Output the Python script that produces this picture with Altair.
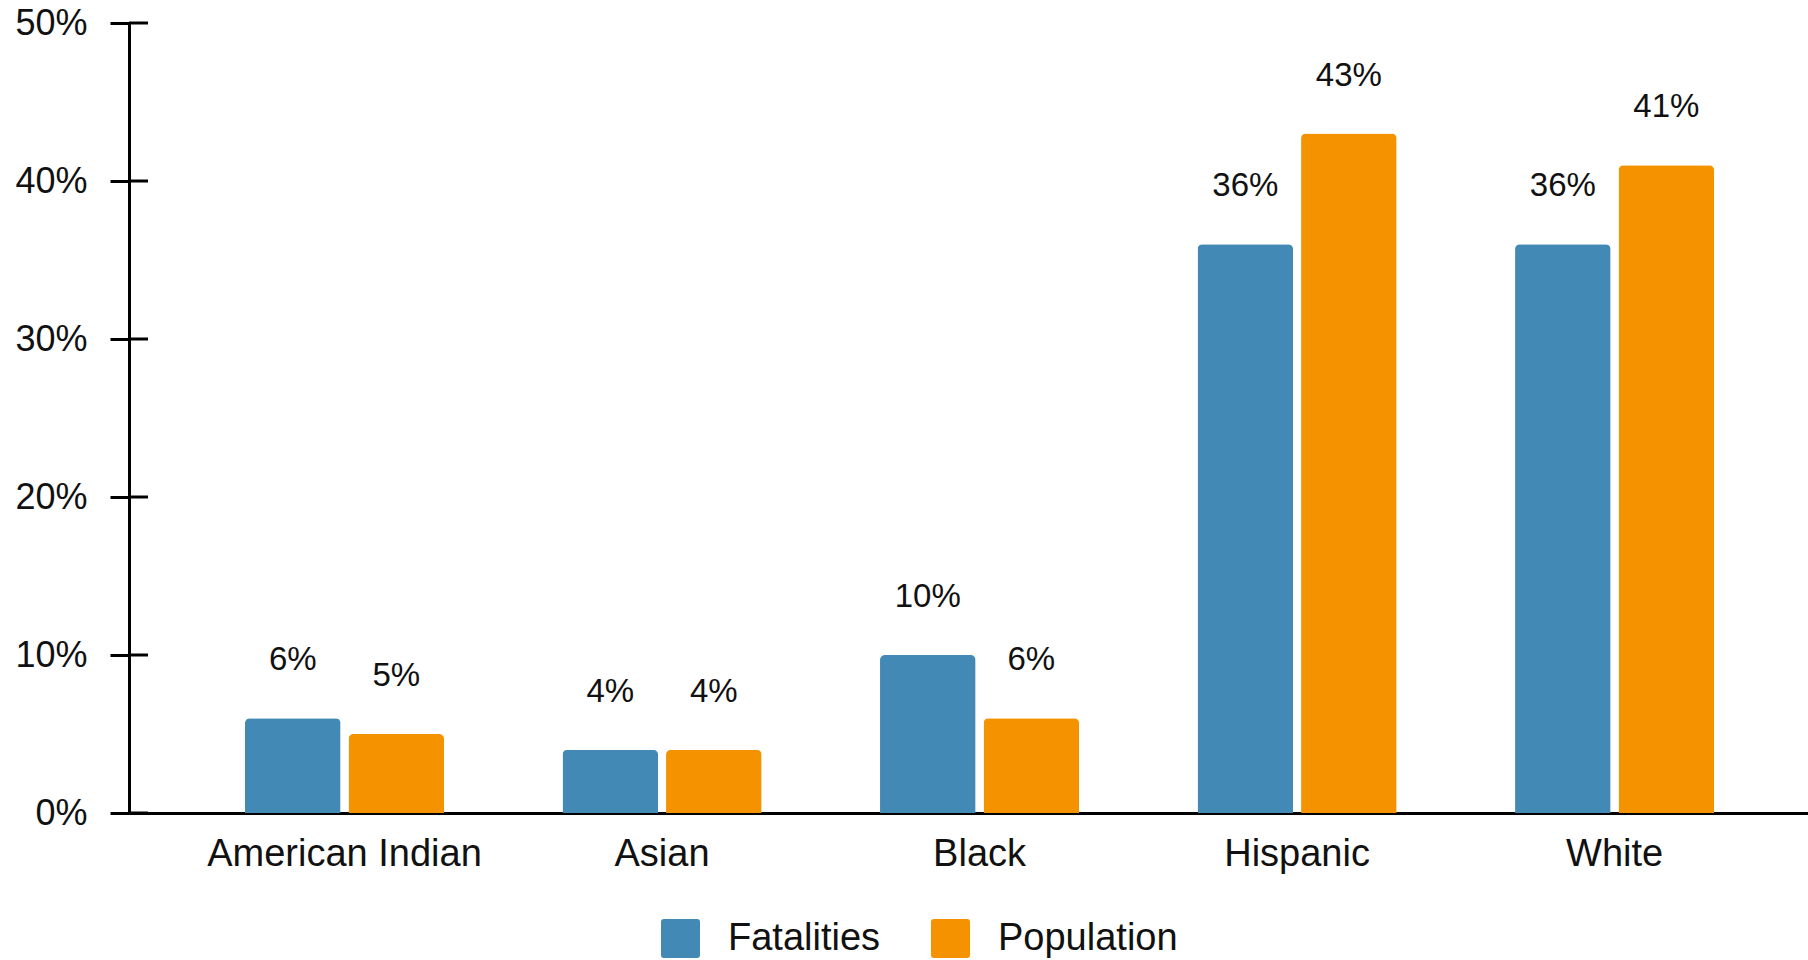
import altair as alt
import pandas as pd

groups = ["American Indian", "Asian", "Black", "Hispanic", "White"]
series = ["Fatalities", "Population"]
fatalities = [6, 4, 10, 36, 36]
population = [5, 4, 6, 43, 41]
y_ticks = [0, 10, 20, 30, 40, 50]
colors = ["#4389B5", "#F49200"]

rows = []
for g, f, p in zip(groups, fatalities, population):
    rows.append({"group": g, "series": "Fatalities", "value": f, "label": f"{f}%"})
    rows.append({"group": g, "series": "Population", "value": p, "label": f"{p}%"})
df = pd.DataFrame(rows)
ticks_df = pd.DataFrame({"value": y_ticks})

FONT = "Liberation Sans"

x = alt.X(
    "group:N", sort=groups, title=None,
    scale=alt.Scale(paddingInner=0.373, paddingOuter=0.3305, align=0.5527),
    axis=alt.Axis(labelAngle=0, labelFontSize=38, labelFont=FONT, labelColor="#111",
                  labelLimit=0, ticks=False, domainColor="#000", domainWidth=3,
                  labelPadding=22),
)
xo = alt.XOffset("series:N", sort=series, scale=alt.Scale(paddingInner=0.077, paddingOuter=0))
y = alt.Y(
    "value:Q", title=None, scale=alt.Scale(domain=[0, 50]),
    axis=alt.Axis(values=y_ticks, labelExpr="datum.value + '%'", grid=False,
                  tickSize=19, tickWidth=3, tickColor="#000", domainColor="#000",
                  domainWidth=3, labelFontSize=36, labelFont=FONT, labelColor="#111",
                  labelPadding=23),
)

sym = ("M -0.85,-1 L 0.85,-1 Q 1,-1 1,-0.85 L 1,0.85 Q 1,1 0.85,1 L -0.85,1 "
       "Q -1,1 -1,0.85 L -1,-0.85 Q -1,-1 -0.85,-1 Z")

color = alt.Color(
    "series:N", sort=series, scale=alt.Scale(domain=series, range=colors),
    legend=alt.Legend(orient="none", legendX=532, legendY=896, direction="horizontal",
                      title=None, symbolType=sym, symbolSize=1521, symbolStrokeWidth=0,
                      symbolOpacity=1, labelFontSize=38, labelFont=FONT, labelColor="#111",
                      labelLimit=0, labelOffset=28, columnPadding=50, padding=0),
)

bars = alt.Chart(df).mark_bar(cornerRadiusTopLeft=5, cornerRadiusTopRight=5).encode(
    x=x, xOffset=xo, y=y, color=color
)
texts = alt.Chart(df).mark_text(fontSize=33, font=FONT, baseline="alphabetic", dy=-48,
                                color="#111").encode(
    x=x, xOffset=xo, y=y, text="label:N"
)
inner_ticks = alt.Chart(ticks_df).mark_rule(strokeWidth=3, color="#000").encode(
    x=alt.value(0), x2=alt.value(19), y=y
)

chart = alt.layer(bars, texts, inner_ticks).properties(
    width=1679, height=790,
    autosize=alt.AutoSizeParams(type="none"),
    padding={"left": 129, "top": 23, "right": 0, "bottom": 147},
    background="white",
).configure_view(stroke=None)

chart.save("out.html", embed_options={"renderer": "svg", "actions": False})
